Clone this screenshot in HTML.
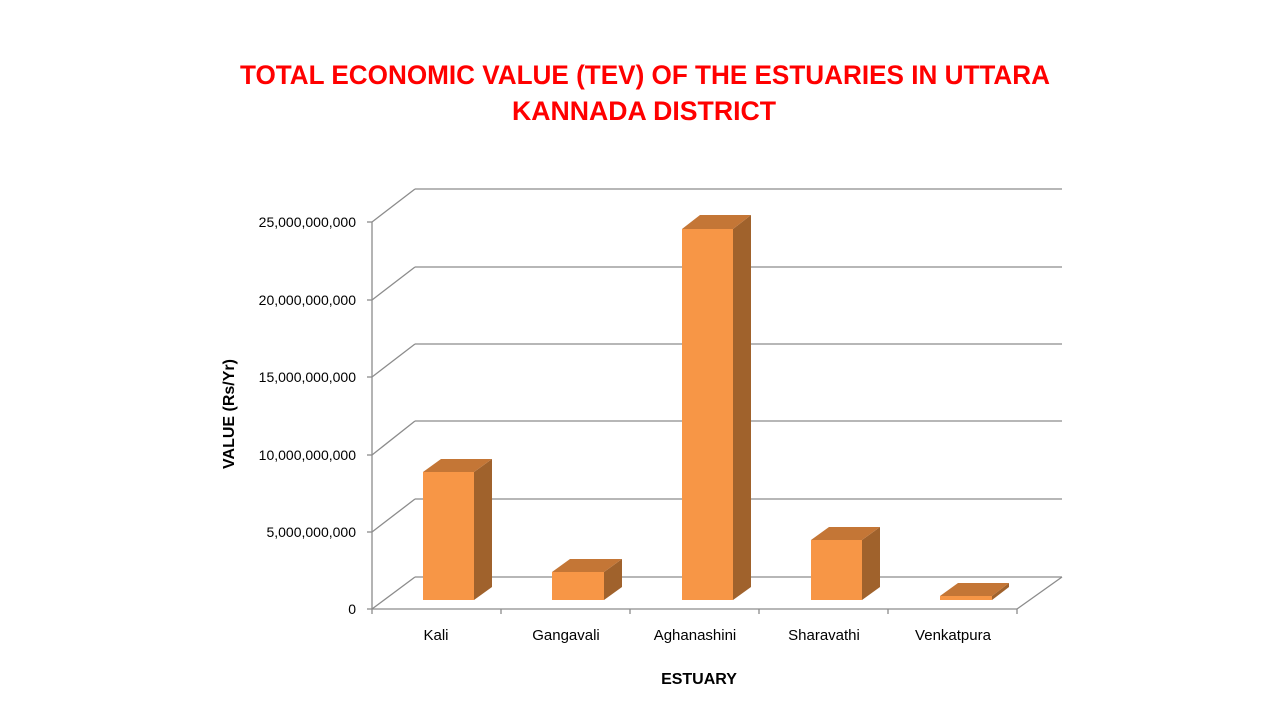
<!DOCTYPE html>
<html><head><meta charset="utf-8"><style>
html,body{margin:0;padding:0;background:#fff;}
svg{display:block;}
</style></head><body>
<svg width="1280" height="720" viewBox="0 0 1280 720" xmlns="http://www.w3.org/2000/svg" font-family="Liberation Sans, sans-serif">
<rect width="1280" height="720" fill="#fff"/>
<text x="240" y="84" textLength="810" lengthAdjust="spacingAndGlyphs" font-size="27" font-weight="bold" fill="#ff0000">TOTAL ECONOMIC VALUE (TEV) OF THE ESTUARIES IN UTTARA</text>
<text x="512" y="120" textLength="264" lengthAdjust="spacingAndGlyphs" font-size="27" font-weight="bold" fill="#ff0000">KANNADA DISTRICT</text>
<g stroke="#8c8c8c" stroke-width="1.3" fill="none">
<line x1="415" y1="189" x2="1062" y2="189"/>
<line x1="415" y1="267" x2="1062" y2="267"/>
<line x1="415" y1="344" x2="1062" y2="344"/>
<line x1="415" y1="421" x2="1062" y2="421"/>
<line x1="415" y1="499" x2="1062" y2="499"/>
<line x1="415" y1="577" x2="1062" y2="577"/>
<line x1="372" y1="222" x2="415" y2="189"/>
<line x1="372" y1="300" x2="415" y2="267"/>
<line x1="372" y1="377" x2="415" y2="344"/>
<line x1="372" y1="455" x2="415" y2="421"/>
<line x1="372" y1="532" x2="415" y2="499"/>
<line x1="372" y1="609" x2="415" y2="577"/>
<line x1="1017" y1="609" x2="1062" y2="577"/>
<line x1="372" y1="222" x2="372" y2="609"/>
<line x1="372" y1="609" x2="1017" y2="609"/>
<line x1="367" y1="222" x2="372" y2="222"/>
<line x1="367" y1="300" x2="372" y2="300"/>
<line x1="367" y1="377" x2="372" y2="377"/>
<line x1="367" y1="455" x2="372" y2="455"/>
<line x1="367" y1="532" x2="372" y2="532"/>
<line x1="367" y1="609" x2="372" y2="609"/>
<line x1="372" y1="609" x2="372" y2="614"/>
<line x1="501" y1="609" x2="501" y2="614"/>
<line x1="630" y1="609" x2="630" y2="614"/>
<line x1="759" y1="609" x2="759" y2="614"/>
<line x1="888" y1="609" x2="888" y2="614"/>
<line x1="1017" y1="609" x2="1017" y2="614"/>
</g>
<g font-size="14" fill="#000" text-anchor="end">
<text x="356" y="227">25,000,000,000</text>
<text x="356" y="305">20,000,000,000</text>
<text x="356" y="382">15,000,000,000</text>
<text x="356" y="460">10,000,000,000</text>
<text x="356" y="537">5,000,000,000</text>
<text x="356" y="614">0</text>
</g>
<g font-size="15" fill="#000" text-anchor="middle">
<text x="436" y="640">Kali</text>
<text x="566" y="640">Gangavali</text>
<text x="695" y="640">Aghanashini</text>
<text x="824" y="640">Sharavathi</text>
<text x="953" y="640">Venkatpura</text>
</g>
<text x="699" y="684" text-anchor="middle" font-size="16" font-weight="bold">ESTUARY</text>
<text transform="translate(234,414) rotate(-90)" text-anchor="middle" font-size="16" font-weight="bold">VALUE (Rs/Yr)</text>
<g>
<polygon points="474,472 492,459 492,587 474,600" fill="#a0622c"/>
<polygon points="423,472 441,459 492,459 474,472" fill="#c47636"/>
<rect x="423" y="472" width="51" height="128" fill="#f79646"/>
<polygon points="604,572 622,559 622,587 604,600" fill="#a0622c"/>
<polygon points="552,572 570,559 622,559 604,572" fill="#c47636"/>
<rect x="552" y="572" width="52" height="28" fill="#f79646"/>
<polygon points="733,229 751,215 751,587 733,600" fill="#a0622c"/>
<polygon points="682,229 700,215 751,215 733,229" fill="#c47636"/>
<rect x="682" y="229" width="51" height="371" fill="#f79646"/>
<polygon points="862,540 880,527 880,587 862,600" fill="#a0622c"/>
<polygon points="811,540 829,527 880,527 862,540" fill="#c47636"/>
<rect x="811" y="540" width="51" height="60" fill="#f79646"/>
<polygon points="992,596 1009,583 1009,587 992,600" fill="#a0622c"/>
<polygon points="940,596 958,583 1009,583 992,596" fill="#c47636"/>
<rect x="940" y="596" width="52" height="4" fill="#f79646"/>
</g>
</svg>
</body></html>
